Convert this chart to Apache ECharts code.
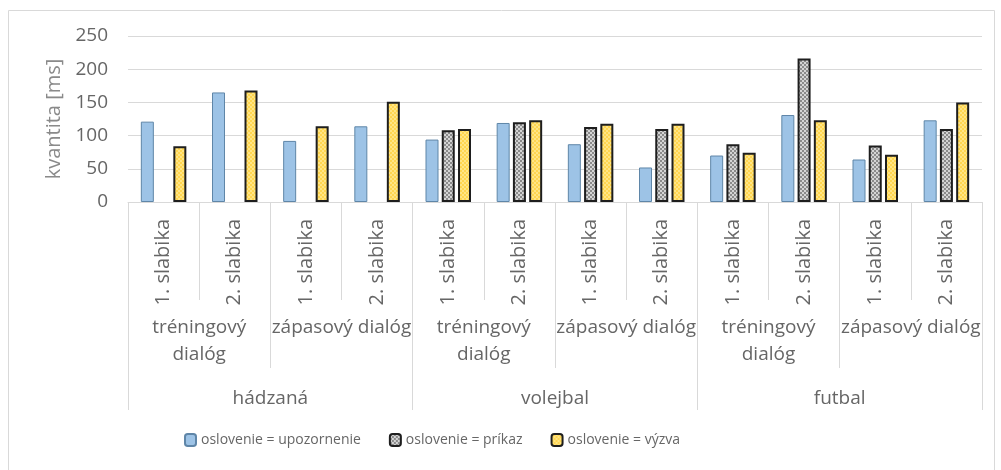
<!DOCTYPE html>
<html lang="sk">
<head>
    <meta charset="UTF-8">
    <title>kvantita</title>
    <script type="text/javascript" src="https://cdn.jsdelivr.net/npm/echarts@6/dist/echarts.min.js"></script>
</head>
<body style="margin: 0; background: #fff;">
<div id="container" style="width: 1001px; height: 470px;"></div>
<script type="text/javascript">
    // hodnoty odčítané z grafu
    var sports = ['hádzaná', 'volejbal', 'futbal'];
    var dialogs = ['tréningový dialóg', 'zápasový dialóg'];
    var syllables = ['1. slabika', '2. slabika'];
    var seriesNames = ['oslovenie = upozornenie', 'oslovenie = príkaz', 'oslovenie = výzva'];
    var upozornenie = [121, 165, 92, 114, 94, 119, 87, 52, 70, 131, 64, 123];
    var prikaz = [null, null, null, null, 108, 120, 113, 110, 87, 216, 85, 110];
    var vyzva = [84, 168, 114, 151, 110, 123, 118, 118, 74, 123, 71, 150];
    var yTicks = [0, 50, 100, 150, 200, 250];

    var level1 = [], level2 = [];
    sports.forEach(function () {
        dialogs.forEach(function (d) {
            level2.push(d);
            syllables.forEach(function (s) { level1.push(s); });
        });
    });

    function pattern(c1, c2) {
        var cv = document.createElement('canvas');
        cv.width = 4; cv.height = 4;
        var ctx = cv.getContext('2d');
        ctx.fillStyle = c1; ctx.fillRect(0, 0, 4, 4);
        ctx.fillStyle = c2; ctx.fillRect(0, 0, 2, 2); ctx.fillRect(2, 2, 2, 2);
        return {image: cv, repeat: 'repeat'};
    }

    var font = 'Open Sans';
    var txt = '#666666';
    var lineCol = '#d9d9d9';

    var dom = document.getElementById("container");
    var myChart = echarts.init(dom);

    var option = {
        animation: false,
        textStyle: {fontFamily: font},
        graphic: [{
            type: 'rect',
            shape: {x: 8.5, y: 10.5, width: 986, height: 470},
            style: {fill: 'none', stroke: lineCol, lineWidth: 1}
        }],
        grid: {left: 128, right: 19, top: 36, bottom: 268},
        legend: {
            left: 184, top: 433, padding: 0,
            itemWidth: 11, itemHeight: 12, itemGap: 28,
            textStyle: {fontSize: 14, color: txt, fontFamily: font},
            data: seriesNames
        },
        xAxis: [
            {
                type: 'category', data: level1, position: 'bottom',
                axisLine: {show: true, lineStyle: {color: lineCol}},
                axisTick: {show: true, interval: 0, length: 98, lineStyle: {color: lineCol}},
                axisLabel: {interval: 0, rotate: 90, margin: 17, fontSize: 20, color: txt, fontFamily: font}
            },
            {
                type: 'category', data: level2, position: 'bottom',
                axisLine: {show: false},
                axisTick: {show: true, interval: 0, length: 166, lineStyle: {color: lineCol}},
                axisLabel: {
                    interval: 0, margin: 112, fontSize: 19, lineHeight: 27, color: txt, fontFamily: font,
                    formatter: function (v) { return v === 'tréningový dialóg' ? 'tréningový\ndialóg' : v; }
                }
            },
            {
                type: 'category', data: sports, position: 'bottom',
                axisLine: {show: false},
                axisTick: {show: true, interval: 0, length: 208, lineStyle: {color: lineCol}},
                axisLabel: {interval: 0, margin: 186, fontSize: 19, lineHeight: 22, color: txt, fontFamily: font}
            }
        ],
        yAxis: {
            type: 'value', min: yTicks[0], max: yTicks[yTicks.length - 1], interval: 50,
            name: 'kvantita [ms]', nameLocation: 'middle', nameGap: 64,
            nameTextStyle: {fontSize: 20, color: '#8a8a8a', fontFamily: font},
            axisLine: {show: false},
            axisTick: {show: false},
            axisLabel: {margin: 20, fontSize: 19, color: txt, fontFamily: font},
            splitLine: {lineStyle: {color: lineCol}}
        },
        series: [
            {
                name: seriesNames[0], type: 'bar', data: upozornenie,
                barWidth: 13, barGap: '25%',
                itemStyle: {color: '#9dc3e6', borderColor: '#5f86a8', borderWidth: 1}
            },
            {
                name: seriesNames[1], type: 'bar', data: prikaz,
                barWidth: 13, barGap: '25%',
                itemStyle: {color: pattern('#d4d4d4', '#8a8a8a'), borderColor: '#1e1e1e', borderWidth: 2}
            },
            {
                name: seriesNames[2], type: 'bar', data: vyzva,
                barWidth: 13, barGap: '25%',
                itemStyle: {color: pattern('#ffd54f', '#ffe585'), borderColor: '#1e1e1e', borderWidth: 2}
            }
        ]
    };
    myChart.setOption(option, true);
</script>
</body>
</html>
